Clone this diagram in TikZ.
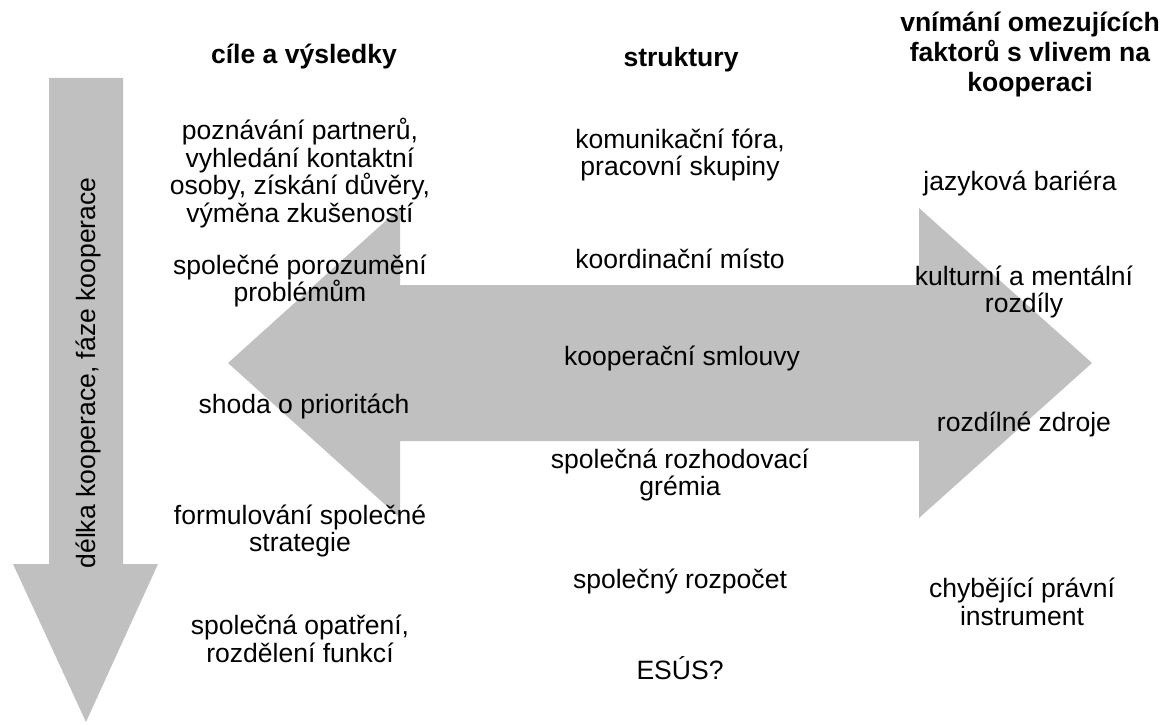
\documentclass[tikz,border=0pt]{standalone}
\usepackage{fontspec}
\setmainfont{Liberation Sans}
\usepackage{tikz}
\usetikzlibrary{positioning}
\definecolor{ArrowGrey}{HTML}{C0C0C0}

\begin{document}
\begin{tikzpicture}[
    item/.style={align=center, inner sep=0pt, font=\fontsize{15.1pt}{15.6pt}\selectfont},
    heading/.style={align=center, inner sep=0pt, font=\fontsize{15.1pt}{17.3pt}\selectfont\bfseries},
    bigarrow/.style={fill=ArrowGrey, draw=none}
]
    \useasboundingbox (0,0) rectangle (23.3,14.48);

    % Time axis
    \fill[bigarrow] (0.98,12.92) -- (2.46,12.92) -- (2.46,3.2) -- (3.16,3.2)
        -- (1.72,0.04) -- (0.26,3.2) -- (0.98,3.2) -- cycle;
    \node[item, rotate=90] (time) at (1.76,7.02) {délka kooperace, fáze kooperace};

    % Double arrow
    \fill[bigarrow] (4.56,7.22) -- (8.0,10.32) -- (8.0,8.78) -- (18.38,8.78)
        -- (18.38,10.32) -- (21.84,7.22) -- (18.38,4.12) -- (18.38,5.66)
        -- (8.0,5.66) -- (8.0,4.12) -- cycle;

    % Goals and results
    \node[heading] (goals) at (6.08,13.34) {cíle a výsledky};
    \node[item] (partners) at (6.0,11.02) {poznávání partnerů,\\vyhledání kontaktní\\osoby, získání důvěry,\\výměna zkušeností};
    \node[item] (understanding) at (6.0,8.86) {společné porozumění\\problémům};
    \node[item] (priorities) at (6.08,6.36) {shoda o prioritách};
    \node[item] (strategy) at (6.0,3.86) {formulování společné\\strategie};
    \node[item] (measures) at (6.0,1.7) {společná opatření,\\rozdělení funkcí};

    % Structures
    \node[heading] (structures) at (13.62,13.28) {struktury};
    \node[item] (forums) at (13.6,11.38) {komunikační fóra,\\pracovní skupiny};
    \node[item] (coordination) at (13.6,9.3) {koordinační místo};
    \node[item] (contracts) at (13.64,7.32) {kooperační smlouvy};
    \node[item] (boards) at (13.6,4.98) {společná rozhodovací\\grémia};
    \node[item] (budget) at (13.6,2.86) {společný rozpočet};
    \node[item] (egtc) at (13.6,1.12) {ESÚS?};

    % Limiting factors
    \node[heading] (factors) at (20.6,13.39) {vnímání omezujících\\faktorů s vlivem na\\kooperaci};
    \node[item] (language) at (20.4,10.82) {jazyková bariéra};
    \node[item] (culture) at (20.48,8.64) {kulturní a mentální\\rozdíly};
    \node[item] (resources) at (20.48,6.0) {rozdílné zdroje};
    \node[item] (legal) at (20.44,2.44) {chybějící právní\\instrument};
\end{tikzpicture}
\end{document}
